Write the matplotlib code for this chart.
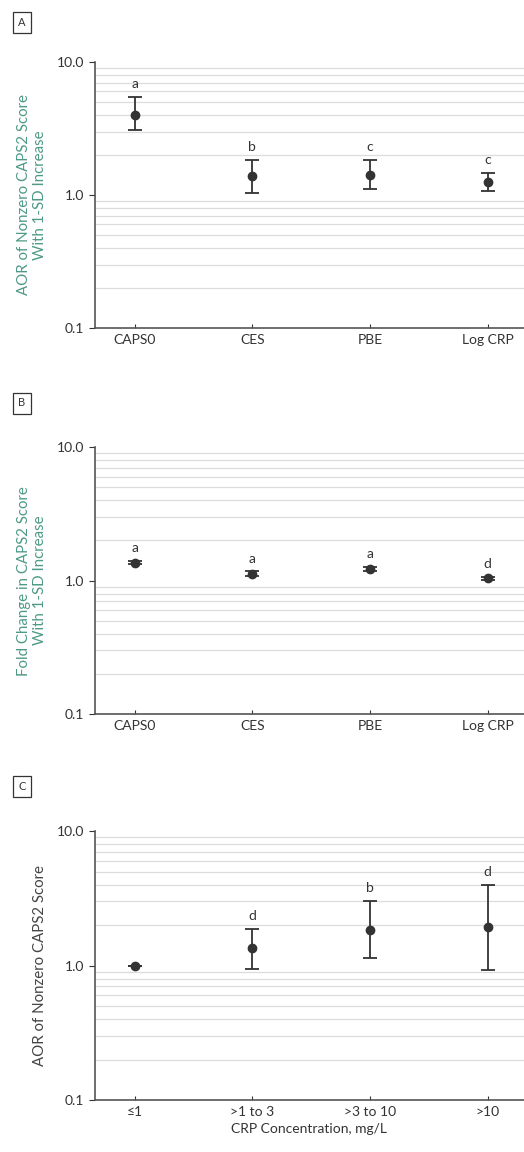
#!/usr/bin/env python3

import matplotlib
matplotlib.use("Agg")
import matplotlib.pyplot as plt
from matplotlib.ticker import FixedLocator, NullFormatter, LogLocator

#-------------------------------------------------------------
# data
catsAB = ["CAPS0", "CES", "PBE", "Log CRP"]
catsC = ["\u22641", ">1 to 3", ">3 to 10", ">10"]

aorA = [3.98, 1.39, 1.41, 1.25]
loA = [3.08, 1.04, 1.11, 1.07]
hiA = [5.5, 1.83, 1.83, 1.46]
lettersA = ["a", "b", "c", "c"]

fcB = [1.36, 1.13, 1.23, 1.04]
loB = [1.32, 1.09, 1.19, 1.01]
hiB = [1.40, 1.17, 1.27, 1.07]
lettersB = ["a", "a", "a", "d"]

aorC = [1.0, 1.34, 1.83, 1.92]
loC = [1.0, 0.95, 1.13, 0.92]
hiC = [1.0, 1.86, 3.0, 4.0]
lettersC = ["", "d", "b", "d"]

plt.rcParams['font.family'] = ['Lato', 'DejaVu Sans']

teal = "#4e9a86"
grey = "#444444"

#-------------------------------------------------------------
def panel(fig, rect, tag, tagy, cats, vals, lo, hi, letters, ylabel, ycolor, xlabel=None):
    ax = fig.add_axes(rect)
    ax.set_yscale("log")
    ax.set_ylim(0.1, 10.0)
    ax.set_xlim(-0.34, 3.31)
    ax.yaxis.set_major_locator(FixedLocator([0.1, 1.0, 10.0]))
    ax.set_yticklabels(["0.1", "1.0", "10.0"])
    ax.yaxis.set_minor_locator(LogLocator(base=10, subs=range(2, 10)))
    ax.yaxis.set_minor_formatter(NullFormatter())
    ax.grid(True, which="minor", axis="y", color="#dcdcdc", lw=0.9)
    ax.tick_params(axis="y", which="minor", length=0)
    ax.tick_params(axis="y", which="major", length=4, labelsize=10,
                   colors="#333333", width=0.8)
    ax.tick_params(axis="x", length=3, direction="in", labelsize=10,
                   colors="#333333", width=0.8, pad=4)
    ax.set_axisbelow(True)
    for s in ["top", "right"]:
        ax.spines[s].set_visible(False)
    for s in ["left", "bottom"]:
        ax.spines[s].set_color("#555555")
        ax.spines[s].set_linewidth(1.2)

    x = list(range(len(cats)))
    yerr = [[v - l for v, l in zip(vals, lo)], [h - v for v, h in zip(vals, hi)]]
    ax.errorbar(x, vals, yerr=yerr, fmt="o", color="#333333", ms=6,
                elinewidth=1.3, capsize=5, capthick=1.3, zorder=3)
    for xi, h, t in zip(x, hi, letters):
        ax.annotate(t, (xi, h), xytext=(0, 5), textcoords="offset points",
                    ha="center", va="bottom", fontsize=10, color="#333333")
    ax.set_xticks(x)
    ax.set_xticklabels(cats)
    ax.set_ylabel(ylabel, color=ycolor, fontsize=10.8, labelpad=7)
    if xlabel:
        ax.set_xlabel(xlabel, fontsize=10, color="#333333", labelpad=4)

    # panel tag box
    fig.text(0.042, tagy, tag, fontsize=8, color="#333333",
             ha="center", va="center",
             bbox=dict(boxstyle="square,pad=0.45", fc="white", ec="#333333", lw=0.9))
    return ax

#-------------------------------------------------------------
def main():
    fig = plt.figure(figsize=(5.24, 11.52), dpi=100)

    panel(fig, [0.181, 0.7153, 0.819, 0.2309], "A", 1 - 22 / 1152, catsAB, aorA, loA, hiA,
          lettersA, "AOR of Nonzero CAPS2 Score\nWith 1-SD Increase", teal)
    panel(fig, [0.181, 0.380, 0.819, 0.232], "B", 1 - 403 / 1152, catsAB, fcB, loB, hiB,
          lettersB, "Fold Change in CAPS2 Score\nWith 1-SD Increase", teal)
    panel(fig, [0.181, 0.0451, 0.819, 0.2335], "C", 1 - 786 / 1152, catsC, aorC, loC, hiC,
          lettersC, "AOR of Nonzero CAPS2 Score", grey, xlabel="CRP Concentration, mg/L")

    fig.savefig("out.png", dpi=100)
    plt.close(fig)

#-------------------------------------------------------------
if __name__ == "__main__":
    main()
